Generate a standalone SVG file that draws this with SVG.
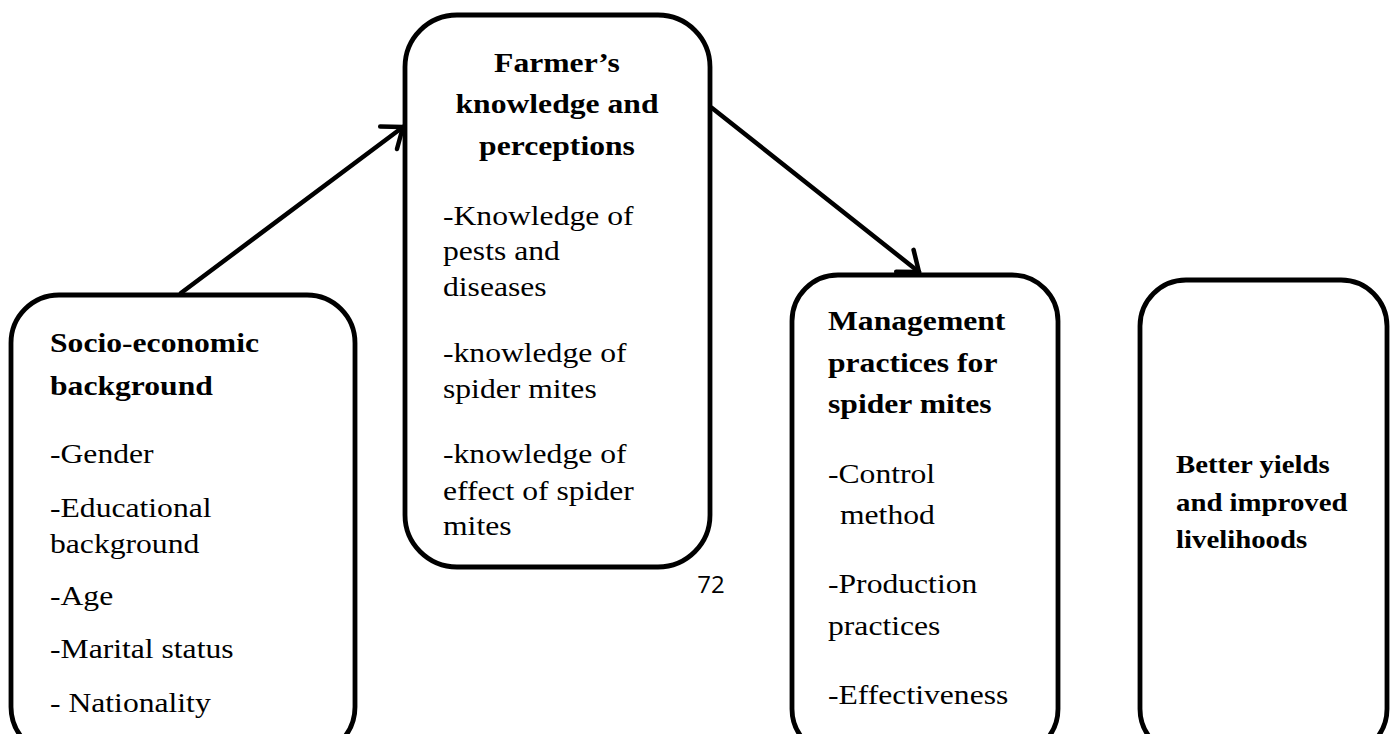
<svg xmlns="http://www.w3.org/2000/svg" width="1390" height="734" viewBox="0 0 1390 734">
<style>
.box{fill:#fff;stroke:#000;stroke-width:4.8}
.t{font-family:"Liberation Serif","Times New Roman",serif;font-size:28px;fill:#000}
.b{font-weight:bold}
.s{font-size:25.5px}
.pg{font-family:"Open Sans","Liberation Sans",sans-serif;font-size:24px;fill:#000}
.c{fill:none;stroke:#000;stroke-width:4.5;stroke-linecap:round}
.ah{fill:none;stroke:#000;stroke-width:4.5;stroke-linecap:round;stroke-linejoin:round}
</style>
<defs>
<marker id="arr" markerUnits="userSpaceOnUse" viewBox="-30 -20 40 40" refX="0" refY="0" markerWidth="40" markerHeight="40" orient="auto" overflow="visible">
<path class="ah" d="M-18,-14 L0,0 L-18,14"/>
</marker>
</defs>
<rect width="1390" height="734" fill="#fff"/>
<g id="connectors">
<line class="c" x1="181" y1="293" x2="403" y2="127" marker-end="url(#arr)"/>
<line class="c" x1="712" y1="108" x2="919" y2="272" marker-end="url(#arr)"/>
</g>
<g id="node-socio">
<rect class="box" x="11" y="295" width="344" height="460" rx="48"/>
<g transform="translate(50,0) scale(1.13,1)">
<text class="t b" x="0" y="352">Socio-economic</text>
<text class="t b" x="0" y="395">background</text>
<text class="t" x="0" y="463">-Gender</text>
<text class="t" x="0" y="517">-Educational</text>
<text class="t" x="0" y="553">background</text>
<text class="t" x="0" y="605">-Age</text>
<text class="t" x="0" y="658">-Marital status</text>
<text class="t" x="0" y="712">- Nationality</text>
</g>
</g>
<g id="node-farmer">
<rect class="box" x="405" y="15" width="305" height="552" rx="52"/>
<g transform="translate(557,0) scale(1.13,1)">
<text class="t b" x="0" y="72" text-anchor="middle">Farmer’s</text>
<text class="t b" x="0" y="113" text-anchor="middle">knowledge and</text>
<text class="t b" x="0" y="155" text-anchor="middle">perceptions</text>
</g>
<g transform="translate(443,0) scale(1.13,1)">
<text class="t" x="0" y="225">-Knowledge of</text>
<text class="t" x="0" y="260">pests and</text>
<text class="t" x="0" y="296">diseases</text>
<text class="t" x="0" y="362">-knowledge of</text>
<text class="t" x="0" y="398">spider mites</text>
<text class="t" x="0" y="463">-knowledge of</text>
<text class="t" x="0" y="500">effect of spider</text>
<text class="t" x="0" y="535">mites</text>
</g>
</g>
<g id="page-number">
<text class="pg" x="711" y="593" text-anchor="middle">72</text>
</g>
<g id="node-management">
<rect class="box" x="792" y="275" width="266" height="480" rx="46"/>
<g transform="translate(828,0) scale(1.13,1)">
<text class="t b" x="0" y="330">Management</text>
<text class="t b" x="0" y="372">practices for</text>
<text class="t b" x="0" y="413">spider mites</text>
<text class="t" x="0" y="483">-Control</text>
<text class="t" x="10.6" y="524">method</text>
<text class="t" x="0" y="593">-Production</text>
<text class="t" x="0" y="635">practices</text>
<text class="t" x="0" y="704">-Effectiveness</text>
</g>
</g>
<g id="node-outcome">
<rect class="box" x="1140" y="280" width="247" height="475" rx="46"/>
<g transform="translate(1176,0) scale(1.13,1)">
<text class="t b s" x="0" y="473">Better yields</text>
<text class="t b s" x="0" y="511">and improved</text>
<text class="t b s" x="0" y="548">livelihoods</text>
</g>
</g>
</svg>
